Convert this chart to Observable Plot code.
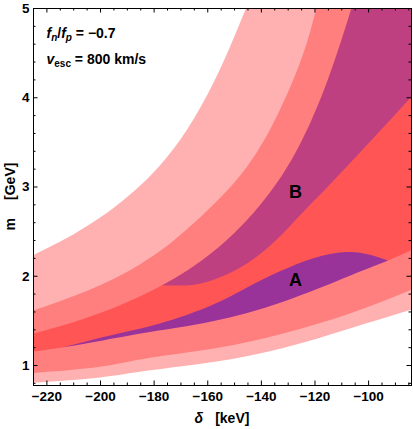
<!DOCTYPE html>
<html><head><meta charset="utf-8">
<script src="https://cdn.jsdelivr.net/npm/d3@7"></script>
<script src="https://cdn.jsdelivr.net/npm/@observablehq/plot@0.6"></script>
<style>body{margin:0;background:#fff;}</style>
</head><body><div id="chart"></div>
<script>
// ---- axes ----
const xDomain = [-225, -84];
const yDomain = [0.776, 5];
const xMajor = [-220, -200, -180, -160, -140, -120, -100];
const xMinor = [-225,-215,-210,-205,-195,-190,-185,-175,-170,-165,-155,-150,-145,-135,-130,-125,-115,-110,-105,-95,-90,-85];
const yMajor = [1, 2, 3, 4, 5];
const yMinor = [0.8,1.2,1.4,1.6,1.8,2.2,2.4,2.6,2.8,3.2,3.4,3.6,3.8,4.2,4.4,4.6,4.8];

// ---- region boundaries (delta [keV], m [GeV]) ----
// outer (light pink) band
const u1Delta = [-225, -215, -205, -195, -185, -175, -165, -155, -145.5];
const u1Mass  = [2.23, 2.38, 2.555, 2.76, 3.01, 3.33, 3.76, 4.33, 5.0];
const l1Delta = [-225, -200, -181.4, -156.5, -131.7, -106.8, -84];
const l1Mass  = [0.80, 0.86, 0.94, 1.04, 1.19, 1.41, 1.62];
// middle (salmon) band
const u2Delta = [-225, -215, -205, -195, -185, -175, -165, -155, -145, -135, -125, -119.3];
const u2Mass  = [1.61, 1.715, 1.83, 1.965, 2.13, 2.335, 2.59, 2.88, 3.23, 3.73, 4.42, 5.0];
const l2Delta = [-225, -200, -181.4, -156.5, -131.7, -106.8, -84];
const l2Mass  = [0.91, 0.98, 1.08, 1.19, 1.354, 1.578, 1.84];
// inner (red) band
const u3Delta = [-225, -215, -205, -195, -185, -175, -165, -155, -145, -135, -125, -115, -106.2];
const u3Mass  = [1.35, 1.435, 1.53, 1.64, 1.77, 1.925, 2.11, 2.34, 2.63, 3.00, 3.50, 4.20, 5.0];
const l3Delta = [-225, -213.7, -200, -181.4, -158, -131.7, -106.8, -92.6, -84];
const l3Mass  = [1.15, 1.20, 1.27, 1.37, 1.49, 1.71, 2.00, 2.17, 2.285];
// region B: lower edge (upper edge follows the red band)
const bDelta = [-177, -165, -155, -145, -135, -125, -115, -100, -84];
const bLow   = [1.894, 1.90, 1.985, 2.14, 2.38, 2.69, 3.00, 3.48, 4.0];
// region A: upper edge (lower edge follows the red band)
const aDelta = [-213.7, -195, -177.7, -159, -145, -132.9, -120, -108, -99.4, -92.6];
const aUp    = [1.20, 1.34, 1.465, 1.66, 1.87, 2.05, 2.20, 2.266, 2.235, 2.17];
// region labels
const labelText  = ["A", "B"];
const labelDelta = [-127.3, -127.3];
const labelMass  = [1.95, 2.94];

// ---- colours ----
const PINK = "#ffb1b1", SALMON = "#ff7f7f", RED = "#ff5555";
const PURPLE_A = "#993399", PURPLE_B = "#bf4080";

const W = 413, H = 429, mL = 33, mR = 2, mT = 8, mB = 44;
const fw = W - mL - mR, fh = H - mT - mB;
const curve = "natural";
const pts = (ds, ms) => ds.map((d, i) => ({d, m: ms[i]}));
const below = (ds, ms, fill) => Plot.areaY(pts(ds, ms), {x: "d", y1: yDomain[0], y2: "m", fill, curve, clip: true});
const above = (ds, ms, fill) => Plot.areaY(pts(ds, ms), {x: "d", y1: "m", y2: yDomain[1], fill, curve, clip: true});
const fmt = d => d < 0 ? "\u2212" + (-d) : String(d);
const labels = labelText.map((t, i) => ({t, d: labelDelta[i], m: labelMass[i]}));

const svg = Plot.plot({
  width: W, height: H,
  marginLeft: mL, marginRight: mR, marginTop: mT, marginBottom: mB,
  x: {domain: xDomain},
  y: {domain: yDomain},
  style: {fontFamily: "'Liberation Sans', Arial, sans-serif", fontSize: "13.5px", fontWeight: "bold", background: "white", color: "black"},
  marks: [
    Plot.frame({fill: RED, stroke: "none"}),
    below(aDelta, aUp, PURPLE_A),
    above(bDelta, bLow, PURPLE_B),
    above(u3Delta, u3Mass, SALMON),
    above(u2Delta, u2Mass, PINK),
    above(u1Delta, u1Mass, "white"),
    below(l3Delta, l3Mass, SALMON),
    below(l2Delta, l2Mass, PINK),
    below(l1Delta, l1Mass, "white"),
    // ticks (inward, all four sides)
    Plot.tickX(xMajor, {x: d => d, insetTop: fh - 4.5}),
    Plot.tickX(xMajor, {x: d => d, insetBottom: fh - 4.5}),
    Plot.tickX(xMinor, {x: d => d, insetTop: fh - 2.5}),
    Plot.tickX(xMinor, {x: d => d, insetBottom: fh - 2.5}),
    Plot.tickY(yMajor, {y: d => d, insetRight: fw - 4.5}),
    Plot.tickY(yMajor, {y: d => d, insetLeft: fw - 4.5}),
    Plot.tickY(yMinor, {y: d => d, insetRight: fw - 2.5}),
    Plot.tickY(yMinor, {y: d => d, insetLeft: fw - 2.5}),
    Plot.axisX(xMajor, {anchor: "bottom", tickSize: 0, tickPadding: 6, tickFormat: fmt, label: null, fontSize: 13.5, fontWeight: "bold"}),
    Plot.axisY(yMajor, {anchor: "left", tickSize: 0, tickPadding: 4, tickFormat: d => String(d), label: null, fontSize: 13.5, fontWeight: "bold"}),
    Plot.text(labels, {x: "d", y: "m", text: "t", fontSize: 18, fontWeight: "bold", fill: "black"}),
    Plot.frame({stroke: "black", strokeWidth: 1})
  ]
});
document.getElementById("chart").appendChild(svg);

// ---- text annotations and axis titles ----
const s = d3.select(svg);
const FF = "'Liberation Sans', Arial, sans-serif";
function addText(x, y, anchor) {
  return s.append("text").attr("x", x).attr("y", y).attr("font-family", FF)
    .attr("text-anchor", anchor)
    .attr("font-size", 14).attr("font-weight", "bold").attr("fill", "black");
}
const t1 = addText(46.5, 38, "start");
t1.append("tspan").attr("font-style", "italic").text("f");
t1.append("tspan").attr("font-style", "italic").attr("font-size", 10).attr("dy", 3).text("n");
t1.append("tspan").attr("dy", -3).text("/");
t1.append("tspan").attr("font-style", "italic").text("f");
t1.append("tspan").attr("font-style", "italic").attr("font-size", 10).attr("dy", 3).text("p");
t1.append("tspan").attr("dy", -3).text(" = \u22120.7");

const t2 = addText(46.5, 64, "start");
t2.append("tspan").attr("font-style", "italic").text("v");
t2.append("tspan").attr("font-size", 10).attr("dy", 3).text("esc");
t2.append("tspan").attr("dy", -3).text(" = 800 km/s");

const xt = addText(mL + fw / 2, 423, "middle");
xt.append("tspan").attr("font-style", "italic").text("\u03b4");
xt.append("tspan").attr("dx", 12).text("[keV]");

const yt = addText(0, 0, "middle")
  .attr("transform", `translate(15,${mT + fh / 2}) rotate(-90)`);
yt.append("tspan").text("m");
yt.append("tspan").attr("dx", 18).text("[GeV]");
</script>
</body></html>
